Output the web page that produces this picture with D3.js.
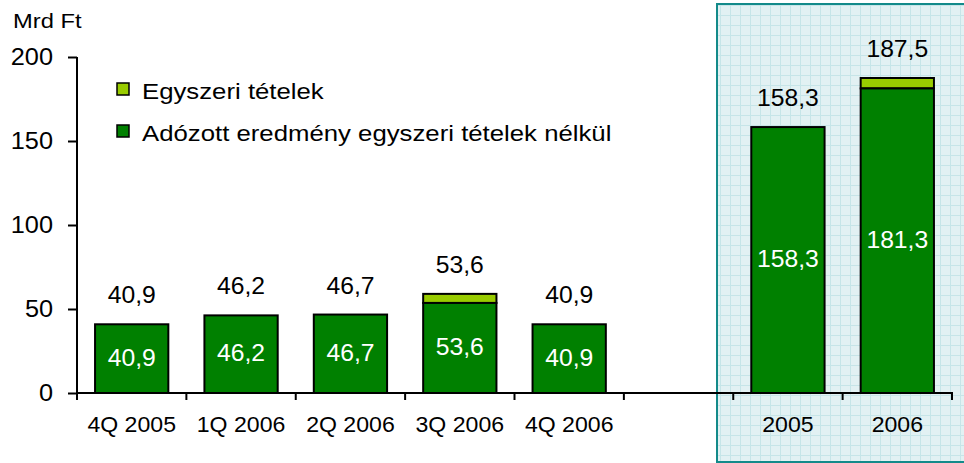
<!DOCTYPE html>
<html><head><meta charset="utf-8">
<script src="https://cdn.jsdelivr.net/npm/d3@7"></script>
<style>
html,body{margin:0;padding:0;background:#fff;}
svg{display:block;font-family:"Liberation Sans",Arial,sans-serif;}
</style></head>
<body>
<svg id="c" width="964" height="463"></svg>
<script>
const categories = ["4Q 2005","1Q 2006","2Q 2006","3Q 2006","4Q 2006","","2005","2006"];
const baseValues = [40.9, 46.2, 46.7, 53.6, 40.9, null, 158.3, 181.3];
const oneOffValues = [0, 0, 0, 5.4, 0, null, 0, 6.2];
const totalLabels = ["40,9","46,2","46,7","53,6","40,9","","158,3","187,5"];
const baseLabels = ["40,9","46,2","46,7","53,6","40,9","","158,3","181,3"];
const yTicks = [0, 50, 100, 150, 200];
const seriesNames = ["Egyszeri tételek", "Adózott eredmény egyszeri tételek nélkül"];
const seriesColors = ["#99cc00", "#008000"];

const svg = d3.select("#c");
const keys = categories.map((c,i)=>i);
const x = d3.scaleBand().domain(keys).range([77, 952]).paddingInner(0.33).paddingOuter(0.165);
const y = d3.scaleLinear().domain([0, 200]).range([393, 57]);

// stretched text helper (source text is slightly widened horizontally)
function stext(g, tx, ty, str, size, sx, anchor, fill){
  return g.append("text").attr("transform",`translate(${tx},${ty}) scale(${sx},1)`)
    .attr("text-anchor",anchor||"start").attr("font-size",size).attr("fill",fill||"#000").text(str);
}

// highlight box with grid pattern
const defs = svg.append("defs");
const pat = defs.append("pattern").attr("id","grid").attr("patternUnits","userSpaceOnUse")
  .attr("width",10).attr("height",10).attr("x",720).attr("y",5);
pat.append("rect").attr("width",10).attr("height",10).attr("fill","#e2f1f3");
pat.append("path").attr("d","M0,0.5H10M0.5,0V10").attr("stroke","#c6e5e8").attr("stroke-width",1);
svg.append("rect").attr("x",717).attr("y",4).attr("width",260).attr("height",458)
  .attr("fill","url(#grid)").attr("stroke","#138a8a").attr("stroke-width",2);

// Mrd Ft
stext(svg, 13, 28, "Mrd Ft", 21, 1.13);

// y axis
const yAxis = d3.axisLeft(y).tickValues(yTicks).tickSize(9).tickPadding(14).tickFormat(d3.format("d"));
const gy = svg.append("g").attr("transform","translate(77,0)").call(yAxis);
gy.select(".domain").attr("stroke","#000").attr("stroke-width",2).attr("d","M0,57V393");
gy.selectAll(".tick line").attr("stroke","#000").attr("stroke-width",2);
gy.selectAll(".tick text").attr("font-size",23).attr("font-family","Liberation Sans, Arial, sans-serif").attr("fill","#000")
  .attr("x",0).attr("transform","translate(-24,0) scale(1.1,1)");

// bars
const step = x.step();
keys.forEach(i=>{
  if (baseValues[i] == null) return;
  const bx = x(i), bw = x.bandwidth();
  const b = baseValues[i], o = oneOffValues[i];
  if (o > 0) {
    svg.append("rect").attr("x",bx).attr("y",y(b+o)).attr("width",bw).attr("height",y(b)-y(b+o))
      .attr("fill",seriesColors[0]).attr("stroke","#000").attr("stroke-width",2);
  }
  svg.append("rect").attr("x",bx).attr("y",y(b)).attr("width",bw).attr("height",y(0)-y(b))
    .attr("fill",seriesColors[1]).attr("stroke","#000").attr("stroke-width",2);
  stext(svg, bx+bw/2, (y(b)+y(0))/2+7, baseLabels[i], 24, 1.03, "middle", "#fff");
  stext(svg, bx+bw/2, y(b+o)-21, totalLabels[i], 24, 1.03, "middle", "#000");
});

// x axis
const xAxis = d3.axisBottom(x).tickSize(0).tickPadding(0).tickFormat(i=>categories[i]);
const gx = svg.append("g").attr("transform","translate(0,393)").call(xAxis);
gx.select(".domain").remove();
gx.selectAll(".tick text").attr("font-size",22).attr("font-family","Liberation Sans, Arial, sans-serif")
  .attr("fill","#000").attr("dy",null).attr("y",0).attr("transform","translate(0,39) scale(1.05,1)");
svg.append("line").attr("x1",76).attr("x2",953).attr("y1",393).attr("y2",393).attr("stroke","#000").attr("stroke-width",2);
const bounds = keys.map(i=>x(i)-step*x.paddingOuter()).concat([x(keys.length-1)+x.bandwidth()+step*x.paddingOuter()]);
svg.selectAll(".xb").data(bounds).enter().append("line")
  .attr("x1",d=>d).attr("x2",d=>d).attr("y1",393).attr("y2",400).attr("stroke","#000").attr("stroke-width",2);

// legend
const lg = svg.append("g");
[0,1].forEach(k=>{
  const ly = [83,125][k];
  lg.append("rect").attr("x",117).attr("y",ly).attr("width",12).attr("height",12)
    .attr("fill",seriesColors[k]).attr("stroke","#000").attr("stroke-width",1.5);
  stext(lg, 142, ly+16, seriesNames[k], 23, 1.12);
});
</script>
</body></html>
